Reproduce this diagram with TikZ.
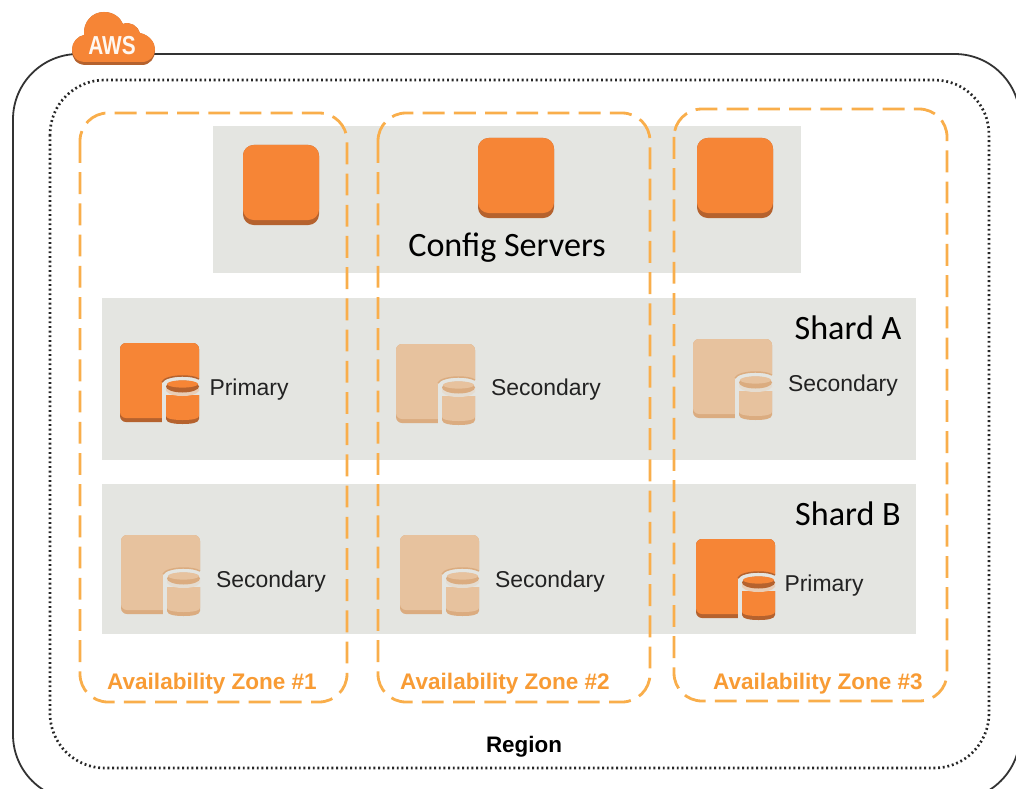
\documentclass[tikz,border=0pt]{standalone}
\usepackage{fontspec}
\setmainfont{Liberation Sans}
\newfontfamily\calfont{Carlito}
\definecolor{awsorange}{HTML}{F68536}
\definecolor{awsdark}{HTML}{B5622E}
\definecolor{paleorange}{HTML}{E7C29E}
\definecolor{paledark}{HTML}{DBAC80}
\definecolor{panelgray}{HTML}{E4E5E1}
\definecolor{zoneorange}{HTML}{F9AE4B}
\definecolor{zonetext}{HTML}{F89B34}
\definecolor{inktext}{HTML}{222222}
\tikzset{
  x=0.75pt,y=-0.75pt,
  panel/.style={fill=panelgray,draw=none},
  zonebox/.style={draw=zoneorange,line width=2.1pt,rounded corners=21pt,dash pattern=on 16.4pt off 7pt},
  zonelabel/.style={text=zonetext,font=\bfseries\fontsize{16.9}{20}\selectfont,inner sep=0pt},
  dblabel/.style={text=inktext,font=\fontsize{17.2}{20}\selectfont,inner sep=0pt},
  biglabel/.style={text=black,font=\calfont\fontsize{25.6}{30}\selectfont,inner sep=0pt},
  pics/server/.style={code={
    \fill[awsdark,rounded corners=8pt] (0,0) rectangle (76,80);
    \fill[awsorange,rounded corners=8pt] (0,0) rectangle (76,75);
  }},
  pics/dbicon/.style n args={2}{code={
    \fill[#2,rounded corners=4.5pt] (0,0) rectangle (79,79);
    \fill[#1,rounded corners=4.5pt] (0,0) rectangle (79,75);
    % notch that holds the cylinder
    \fill[panelgray] (42,82) -- (42,40) .. controls (42,36) and (50,33) .. (62,33)
       .. controls (70,33) and (76,34) .. (81,36) -- (81,82) -- cycle;
    \draw[#2,line width=1.1pt] (42,39) .. controls (44,35) and (54,33) .. (62,33)
       .. controls (70,33) and (75,34) .. (79,36);
    % cylinder
    \fill[#2] (46,52) -- (46,76) .. controls (46,80) and (55,81) .. (62.5,81)
       .. controls (71,81) and (79,80) .. (79,76) -- (79,52) -- cycle;
    \fill[#1] (46,52) -- (46,73) .. controls (46,76) and (55,77) .. (62.5,77)
       .. controls (71,77) and (79,76) .. (79,73) -- (79,52) -- cycle;
    \fill[panelgray!75!#1] (46,43) -- (46,48) .. controls (49,52) and (56,53) .. (62.5,53)
       .. controls (69,53) and (76,52) .. (79,48) -- (79,43) -- cycle;
    \fill[#2] (62.5,43.5) ellipse [x radius=16.5,y radius=6];
    \fill[#1] (62.5,41) ellipse [x radius=15.5,y radius=3.6];
  }},
}
\begin{document}
\begin{tikzpicture}
\useasboundingbox (0,0) rectangle (1016,788);
\clip (0,0) rectangle (1016,788);
\fill[white] (0,0) rectangle (1016,788);
% region frames
\draw[draw=black!80,line width=1.35pt,rounded corners=49pt] (13,54) rectangle (1020,800);
\draw[draw=black!85,line width=2pt,rounded corners=41pt,dash pattern=on 1.4pt off 2.1pt] (50,80) rectangle (989,768);
% grey bands
\fill[panel] (213,126) rectangle (801,273);
\fill[panel] (102,298) rectangle (916,460);
\fill[panel] (102,484) rectangle (916,634);
% zones
\draw[zonebox] (80,113) rectangle (347,702);
\draw[zonebox] (378,113) rectangle (650,702);
\draw[zonebox] (674,109) rectangle (947,701);
% cloud
\fill[awsdark] (86,65) .. controls (76,65) and (72,58) .. (72,51)
  .. controls (72,42) and (78,36) .. (84,35) .. controls (83,22) and (92,12) .. (104,12)
  .. controls (113,12) and (120,17) .. (123,24) .. controls (130,21) and (138,26) .. (140,33)
  .. controls (149,35) and (155,42) .. (155,51) .. controls (155,58) and (150,65) .. (142,65) -- cycle;
\fill[awsorange] (86,62) .. controls (76,62) and (72,56) .. (72,49)
  .. controls (72,42) and (78,36) .. (84,35) .. controls (83,22) and (92,12) .. (104,12)
  .. controls (113,12) and (120,17) .. (123,24) .. controls (130,21) and (138,26) .. (140,33)
  .. controls (149,35) and (155,42) .. (155,49) .. controls (155,56) and (150,62) .. (142,62) -- cycle;
\node[text=white!93!awsorange,font=\bfseries\fontsize{19.5}{22}\selectfont,xscale=.8,inner sep=0pt] (aws) at (112,46) {AWS};
% config servers
\pic at (243,145) {server};
\pic at (478,138) {server};
\pic at (697,138) {server};
\node[biglabel] (cfg) at (507,248) {Config Servers};
% shard labels
\node[biglabel] (sa) at (848,328) {Shard A};
\node[biglabel] (sb) at (848,514) {Shard B};
% database icons
\pic at (120,343) {dbicon={awsorange}{awsdark}};
\pic at (396,344) {dbicon={paleorange}{paledark}};
\pic at (693,339) {dbicon={paleorange}{paledark}};
\pic at (121,535) {dbicon={paleorange}{paledark}};
\pic at (400,535) {dbicon={paleorange}{paledark}};
\pic at (696,539) {dbicon={awsorange}{awsdark}};
% database labels
\node[dblabel] (l1) at (249,390) {Primary};
\node[dblabel] (l2) at (546,390) {Secondary};
\node[dblabel] (l3) at (843,386) {Secondary};
\node[dblabel] (l4) at (271,582) {Secondary};
\node[dblabel] (l5) at (550,582) {Secondary};
\node[dblabel] (l6) at (824,586) {Primary};
% zone labels
\node[zonelabel] (z1) at (212,684) {Availability Zone \#1};
\node[zonelabel] (z2) at (505,684) {Availability Zone \#2};
\node[zonelabel] (z3) at (818,684) {Availability Zone \#3};
\node[text=black,font=\bfseries\fontsize{16.8}{20}\selectfont,inner sep=0pt] (reg) at (524,747) {Region};
\end{tikzpicture}
\end{document}
